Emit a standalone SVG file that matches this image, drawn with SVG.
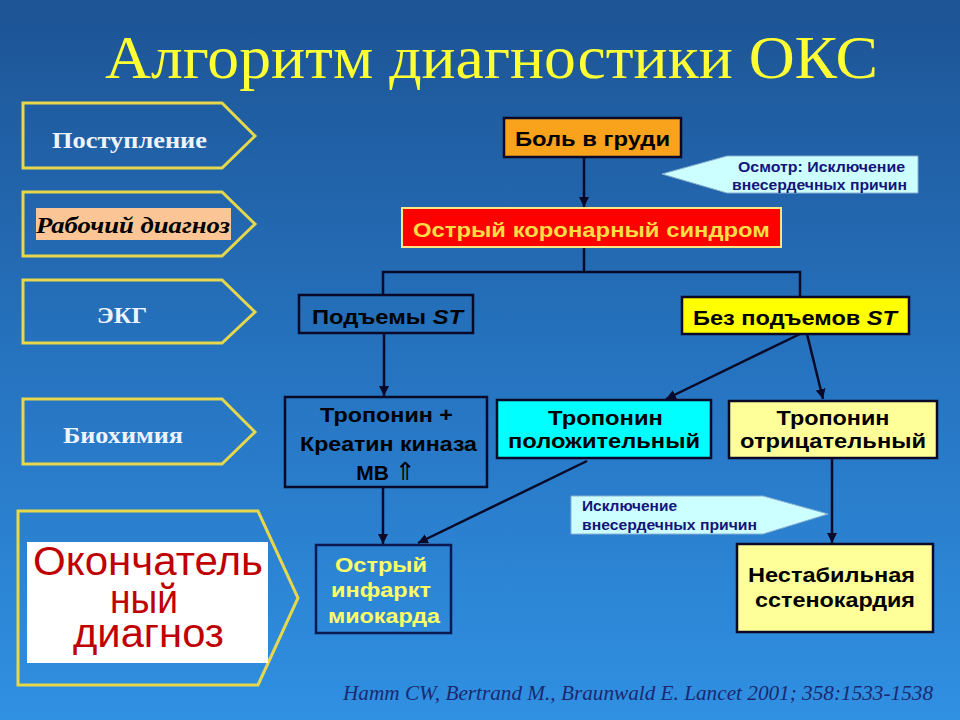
<svg xmlns="http://www.w3.org/2000/svg" width="960" height="720" viewBox="0 0 960 720">
<defs>
<linearGradient id="bg" x1="0" y1="0" x2="0" y2="1">
<stop offset="0" stop-color="#1d5495"/>
<stop offset="0.5" stop-color="#2673bf"/>
<stop offset="1" stop-color="#3090e2"/>
</linearGradient>
<marker id="ah" viewBox="0 0 10 10" refX="10" refY="5" markerWidth="4" markerHeight="4" orient="auto" markerUnits="strokeWidth">
<path d="M0,0 L10,5 L0,10 z" fill="#0a0a28"/>
</marker>
<style>
.stage{fill:none;stroke:#e6d84a;stroke-width:3}
.stxt{font-family:"Liberation Serif",serif;font-weight:bold;font-size:24px;fill:#eef4ff}
.box{stroke:#0a0a28;stroke-width:2.5}
.bt{font-family:"Liberation Sans",Arial,sans-serif;font-weight:bold;font-size:21px;fill:#000;text-anchor:middle}
.yt{fill:#ffff66}
.ct{font-family:"Liberation Sans",Arial,sans-serif;font-weight:bold;font-size:14px;fill:#14147a}
.call{fill:#ccffff;stroke:#8ab0d0;stroke-width:1}
.con{stroke:#0a0a28;stroke-width:2.5;fill:none}
.fin{font-family:"Liberation Sans",Arial,sans-serif;font-size:40px;fill:#c00000}
</style>
</defs>
<rect x="0" y="0" width="960" height="720" fill="url(#bg)"/>
<text x="105" y="78" font-family="Liberation Serif,serif" font-size="62" fill="#ffff33" textLength="773" lengthAdjust="spacingAndGlyphs">Алгоритм диагностики ОКС</text>

<g id="stage-postuplenie">
<path class="stage" d="M23,103 H222 L255,136 L222,168 H23 Z"/>
<text class="stxt" x="52" y="148" textLength="155" lengthAdjust="spacingAndGlyphs">Поступление</text>
</g>
<g id="stage-rabochiy">
<path class="stage" d="M23,192 H222 L255,224 L222,256 H23 Z"/>
<rect x="36" y="208" width="195" height="32" fill="#fcc595"/>
<text x="36" y="233" font-family="Liberation Serif,serif" font-weight="bold" font-style="italic" font-size="24" fill="#000" textLength="194" lengthAdjust="spacingAndGlyphs">Рабочий диагноз</text>
</g>
<g id="stage-ekg">
<path class="stage" d="M23,280 H222 L255,312 L222,343 H23 Z"/>
<text class="stxt" x="97" y="323" textLength="50" lengthAdjust="spacingAndGlyphs">ЭКГ</text>
</g>
<g id="stage-bio">
<path class="stage" d="M23,399 H222 L255,432 L222,464 H23 Z"/>
<text class="stxt" x="63" y="443" textLength="120" lengthAdjust="spacingAndGlyphs">Биохимия</text>
</g>
<g id="stage-final">
<path class="stage" d="M18,511 H258 L298,598 L258,685 H18 Z"/>
<rect x="27" y="542" width="241" height="121" fill="#ffffff"/>
<text class="fin" x="33" y="575" textLength="230" lengthAdjust="spacingAndGlyphs">Окончатель</text>
<text class="fin" x="110" y="613" textLength="68" lengthAdjust="spacingAndGlyphs">ный</text>
<text class="fin" x="73" y="647" textLength="151" lengthAdjust="spacingAndGlyphs">диагноз</text>
</g>

<g id="connectors">
<line class="con" x1="584" y1="157" x2="584" y2="207" marker-end="url(#ah)"/>
<polyline class="con" points="584,247 584,272"/>
<polyline class="con" points="383,295 383,272 800,272 800,297"/>
<line class="con" x1="384" y1="333" x2="384" y2="396" marker-end="url(#ah)"/>
<line class="con" x1="800" y1="334" x2="666" y2="399" marker-end="url(#ah)"/>
<line class="con" x1="807" y1="334" x2="823" y2="399" marker-end="url(#ah)"/>
<line class="con" x1="383" y1="487" x2="383" y2="544" marker-end="url(#ah)"/>
<line class="con" x1="587" y1="461" x2="418" y2="543" marker-end="url(#ah)"/>
<line class="con" x1="832" y1="458" x2="832" y2="543" marker-end="url(#ah)"/>
</g>

<g id="bol">
<rect class="box" x="504" y="118" width="177" height="39" fill="#f9a21c" stroke-width="3"/>
<text class="bt" x="592.5" y="146" textLength="155" lengthAdjust="spacingAndGlyphs">Боль в груди</text>
</g>
<g id="callout-osmotr">
<path class="call" d="M662,174 L727,156 H918 V193 H727 Z"/>
<text class="ct" x="738" y="172" textLength="167" lengthAdjust="spacingAndGlyphs">Осмотр: Исключение</text>
<text class="ct" x="732" y="190" textLength="175" lengthAdjust="spacingAndGlyphs">внесердечных причин</text>
</g>
<g id="oks">
<rect x="402" y="208" width="379" height="39" fill="#ff0000" stroke="#ffe680" stroke-width="2"/>
<text class="bt" x="591.5" y="237" font-size="22" textLength="357" lengthAdjust="spacingAndGlyphs" style="fill:#ffdd44">Острый коронарный синдром</text>
</g>
<g id="st-up">
<rect class="box" x="299" y="295" width="174" height="38" fill="none"/>
<text class="bt" x="387.5" y="324" textLength="151" lengthAdjust="spacingAndGlyphs">Подъемы <tspan font-style="italic">ST</tspan></text>
</g>
<g id="st-noup">
<rect class="box" x="682" y="297" width="227" height="37" fill="#ffff00"/>
<text class="bt" x="795" y="325" textLength="204" lengthAdjust="spacingAndGlyphs">Без подъемов <tspan font-style="italic">ST</tspan></text>
</g>
<g id="trop-ck">
<rect class="box" x="285" y="397" width="202" height="90" fill="none"/>
<text class="bt" x="386.5" y="422" textLength="133" lengthAdjust="spacingAndGlyphs">Тропонин +</text>
<text class="bt" x="388.5" y="451" textLength="177" lengthAdjust="spacingAndGlyphs">Креатин киназа</text>
<text class="bt" x="386" y="480">МВ <tspan font-family="DejaVu Sans,sans-serif" font-weight="normal" font-size="25">⇑</tspan></text>
</g>
<g id="trop-pos">
<rect class="box" x="497" y="400" width="214" height="58" fill="#00ffff"/>
<text class="bt" x="605.5" y="425" textLength="115" lengthAdjust="spacingAndGlyphs">Тропонин</text>
<text class="bt" x="604" y="448" textLength="192" lengthAdjust="spacingAndGlyphs">положительный</text>
</g>
<g id="trop-neg">
<rect class="box" x="729" y="401" width="208" height="57" fill="#ffff99"/>
<text class="bt" x="833" y="425" textLength="113" lengthAdjust="spacingAndGlyphs">Тропонин</text>
<text class="bt" x="833" y="448" textLength="186" lengthAdjust="spacingAndGlyphs">отрицательный</text>
</g>
<g id="callout-iskl">
<path class="call" d="M571,496 H763 L828,514 L763,534 H571 Z"/>
<text class="ct" x="582" y="511" textLength="95" lengthAdjust="spacingAndGlyphs">Исключение</text>
<text class="ct" x="582" y="530" textLength="175" lengthAdjust="spacingAndGlyphs">внесердечных причин</text>
</g>
<g id="oim">
<rect x="316" y="545" width="135" height="88" fill="none" stroke="#0a1a50" stroke-width="2.5"/>
<text class="bt yt" x="381" y="572" textLength="92" lengthAdjust="spacingAndGlyphs" style="fill:#ffff66">Острый</text>
<text class="bt yt" x="381" y="597" textLength="100" lengthAdjust="spacingAndGlyphs" style="fill:#ffff66">инфаркт</text>
<text class="bt yt" x="384" y="623" textLength="112" lengthAdjust="spacingAndGlyphs" style="fill:#ffff66">миокарда</text>
</g>
<g id="nest">
<rect class="box" x="737" y="544" width="196" height="88" fill="#ffff99" stroke-width="3"/>
<text class="bt" x="831.5" y="582" textLength="167" lengthAdjust="spacingAndGlyphs">Нестабильная</text>
<text class="bt" x="835" y="607" textLength="160" lengthAdjust="spacingAndGlyphs">сстенокардия</text>
</g>
<text x="343" y="700" font-family="Liberation Serif,serif" font-style="italic" font-size="21" fill="#1a2a70" textLength="590" lengthAdjust="spacingAndGlyphs">Hamm CW, Bertrand M., Braunwald E. Lancet 2001; 358:1533-1538</text>
</svg>
